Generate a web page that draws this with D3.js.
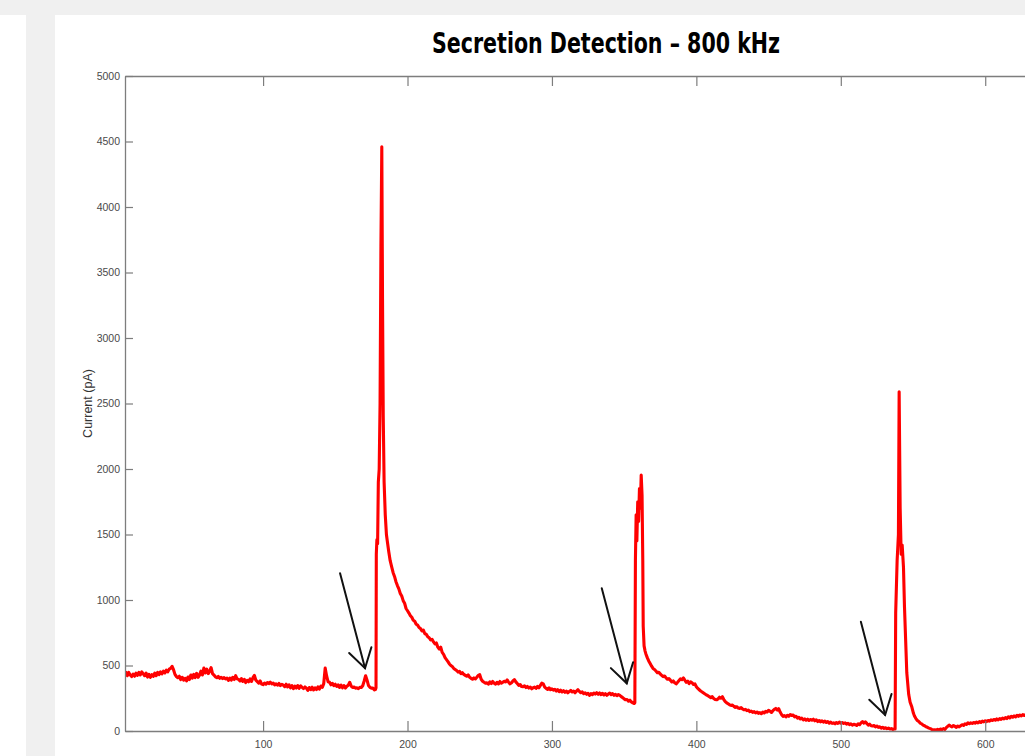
<!DOCTYPE html>
<html>
<head>
<meta charset="utf-8">
<script src="https://cdn.jsdelivr.net/npm/d3@7/dist/d3.min.js"></script>
<style>
  html, body { margin: 0; padding: 0; background: #f0f0f0; overflow: hidden; }
  svg { display: block; }
</style>
</head>
<body>
<svg id="chart" width="1025" height="756"></svg>
<script>
// Amperometric trace: [time, current in pA], split by event
const baselineBefore = [
  [4.4,440],[5,448],[6,422],[7,447],[8,428],[9,416],[10,434],[11,418],[12,442],[13,425],[14,447],[15,428],[16,452],[17,436],[18,422],[19,442],
  [20,412],[21,432],[22,410],[23,430],[24,418],[25,442],[26,422],[27,447],[28,430],[29,452],[30,436],[31,457],[32,443],[33,464],[34,452],
  [35,472],[36,478],[37,494],[38,468],[39,432],[40,416],[41,407],[42,418],[43,393],[44,410],[45,388],[46,402],[47,383],[48,412],[49,393],
  [50,427],[51,403],[52,432],[53,408],[54,440],[55,410],[56,427],[57,457],[58,428],[59,480],[60,443],[61,472],[62,438],[63,457],[64,484],
  [65,438],[66,427],[67,413],[68,407],[69,416],[70,402],[71,410],[72,400],[73,408],[74,397],[75,403],[76,386],[77,404],[78,388],[79,410],
  [80,393],[81,422],[82,398],[83,394],[84,383],[85,400],[86,378],[87,394],[88,370],[89,387],[90,376],[91,397],[92,378],[93,407],[94,424],
  [95,388],[96,377],[97,366],[98,382],[99,358],[100,354],[101,366],[102,357],[103,370],[104,362],[105,373],[106,360],[107,366],[108,352],
  [109,360],[110,350],[111,363],[112,347],[113,356],[114,350],[115,338],[116,357],[117,336],[118,352],[119,330],[120,347],[121,323],
  [122,342],[123,328],[124,347],[125,326],[126,344],[127,333],[128,324],[129,336],[130,327],[131,310],[132,332],[133,316],[134,334],
  [135,313],[136,330],[137,316],[138,337],[139,320],[140,342],[141,333],[142,362],[143,480],[144,420],[145,376],[146,372],[147,353],
  [148,364],[149,346],[150,357],[151,340],[152,352],[153,333],[154,350],[155,330],[156,347],[157,328],[158,342],[159,350],[160,372],
  [161,343],[162,332],[163,336],[164,327],[165,330],[166,324],[167,333],[168,332],[169,346],[170,382],[171,422],[172,388],[173,347],
  [174,333],[175,327],[176,328],[177,314],[177.8,316],[178.2,330]
];
const spike1 = [
  [178.4,1350],[178.8,1460],[179.3,1430],[179.8,1900],[180.4,2000],[181.0,2500],[181.6,3700],[182.2,4460],[182.7,3300],[183.2,2400],
  [183.8,1900],[184.6,1650],[185.4,1500]
];
const decay1 = [
  [186,1450],[187,1370],[188,1300],[189,1255],[190,1210],[191,1180],[192,1140],[193,1110],[194,1085],[195,1050],[196,1030],[197,995],
  [198,975],[199,935],[200,918],[201,900],[202,880],[203,868],[204,845],[205,838],[206,815],[207,808],[208,790],[209,782],[210,765],
  [211,770],[212,742],[213,738],[214,720],[215,712],[216,695],[217,700],[218,680],[219,665],[220,672],[221,640],[222,625],[223,640],
  [224,600],[225,585],[226,560],[227,545],[228,530],[229,512],[230,500],[231,492],[232,478],[233,470],[234,462],[235,450],[236,455],
  [237,438],[238,445],[239,432],[240,425],[241,418],[242,428],[243,410],[244,402],[245,395],[246,405],[247,398],[248,410],[249,425],
  [250,430],[251,395],[252,380],[253,372],[254,365],[255,368],[256,358],[257,375],[258,362],[259,378],[260,365],[261,358],[262,372],
  [263,360],[264,378],[265,365],[266,372],[267,380],[268,375],[269,390],[270,372],[271,360],[272,368],[273,382],[274,392],[275,375],
  [276,362],[277,348],[278,355],[279,340],[280,338],[281,345],[282,332],[283,340],[284,328],[285,335],[286,322],[287,330],[288,335],
  [289,325],[290,340],[291,330],[292,348],[293,365],[294,360],[295,335],[296,325],[297,318],[298,330],[299,315],[300,322],[301,312],
  [302,318],[303,305],[304,315],[305,300],[306,312],[307,298],[308,308],[309,295],[310,305],[311,292],[312,302],[313,310],[314,298],
  [315,305],[316,292],[317,305],[318,315],[319,302],[320,292],[321,298],[322,285],[323,292],[324,280],[325,288],[326,272],[327,285],
  [328,278],[329,290],[330,282],[331,292],[332,280],[333,290],[334,278],[335,288],[336,275],[337,285],[338,272],[339,282],[340,290],
  [341,278],[342,285],[343,272],[344,280],[345,270],[346,278],[347,272],[348,262],[349,255],[350,245],[351,238],[352,240],[353,228],
  [354,235],[355,222],[356,215],[357,210],[357.4,215]
];
const spike2 = [
  [357.8,1300],[358.3,1650],[358.8,1450],[359.4,1750],[360.0,1600],[360.6,1850],[361.2,1700],[361.8,1954],[362.4,1800],[362.9,1300],
  [363.2,800],[363.8,650],[364.5,610]
];
const decay2 = [
  [365,590],[366,560],[367,535],[368,515],[369,495],[370,478],[371,470],[372,458],[373,445],[374,448],[375,435],[376,425],[377,415],
  [378,420],[379,405],[380,395],[381,400],[382,388],[383,375],[384,382],[385,368],[386,360],[387,372],[388,385],[389,398],[390,392],
  [391,405],[392,388],[393,372],[394,380],[395,362],[396,375],[397,368],[398,355],[399,360],[400,338],[401,325],[402,315],[403,305],
  [404,298],[405,290],[406,282],[407,275],[408,270],[409,262],[410,255],[411,262],[412,248],[413,240],[414,238],[415,245],[416,258],
  [417,250],[418,262],[419,240],[420,225],[421,215],[422,208],[423,200],[424,195],[425,198],[426,188],[427,180],[428,185],[429,175],
  [430,172],[431,178],[432,168],[433,162],[434,165],[435,155],[436,160],[437,148],[438,152],[439,142],[440,148],[441,138],[442,145],
  [443,135],[444,140],[445,132],[446,145],[447,138],[448,150],[449,145],[450,158],[451,150],[452,142],[453,155],[454,165],[455,172],
  [456,160],[457,170],[458,145],[459,125],[460,112],[461,118],[462,108],[463,120],[464,112],[465,125],[466,118],[467,122],[468,108],
  [469,112],[470,98],[471,105],[472,92],[473,98],[474,85],[475,92],[476,82],[477,90],[478,80],[479,88],[480,82],[481,90],[482,78],
  [483,85],[484,72],[485,80],[486,70],[487,78],[488,68],[489,75],[490,65],[491,72],[492,60],[493,68],[494,58],[495,62],[496,55],
  [497,65],[498,58],[499,68],[500,60],[501,65],[502,58],[503,62],[504,52],[505,58],[506,48],[507,55],[508,45],[509,52],[510,48],
  [511,42],[512,55],[513,48],[514,62],[515,72],[516,60],[517,70],[518,58],[519,45],[520,52],[521,40],[522,38],[523,42],[524,32],
  [525,38],[526,28],[527,32],[528,22],[529,28],[530,20],[531,25],[532,18],[533,22],[534,15],[535,18],[536,12],[537,15],[537.6,15]
];
const spike3 = [
  [538.0,900],[539.0,1300],[539.9,1500],[540.4,2590],[541.1,1700],[541.8,1350],[542.5,1420],[543.4,1250],[544.1,946],[545.7,443],
  [547,280],[548,220],[549.2,183],[550.3,135]
];
const tail = [
  [551,115],[552,95],[553,80],[554,72],[555,60],[556,55],[557,45],[558,40],[559,32],[560,28],[561,22],[562,18],[563,12],[564,8],
  [565,10],[566,5],[567,12],[568,8],[569,15],[570,10],[571,18],[572,12],[573,25],[574,35],[575,45],[576,38],[577,32],[578,42],
  [579,35],[580,28],[581,38],[582,32],[583,40],[584,48],[585,42],[586,55],[587,50],[588,62],[589,55],[590,62],[591,58],[592,65],
  [593,60],[594,68],[595,62],[596,72],[597,65],[598,75],[599,70],[600,78],[601,72],[602,80],[603,75],[604,85],[605,80],[606,88],
  [607,82],[608,92],[609,85],[610,95],[611,88],[612,98],[613,92],[614,102],[615,95],[616,108],[617,100],[618,112],[619,105],
  [620,115],[621,108],[622,120],[623,112],[624,122],[625,115],[626,125],[627,118],[628,125],[630,128]
];

// Annotation arrows pointing at pre-spike features: [fromTime, fromPA, toTime, toPA]
const arrows = [
  [153.3, 1204, 170.6, 479],
  [334.5, 1089, 351.8, 364],
  [513.9, 834, 530.7, 122]
];

const xTicks = [100, 200, 300, 400, 500, 600];
const yTicks = [0, 500, 1000, 1500, 2000, 2500, 3000, 3500, 4000, 4500, 5000];
const xDomain = [4.4, 640];
const yDomain = [0, 5000];
const titleText = "Secretion Detection \u2013 800 kHz";
const yLabelText = "Current (pA)";

const svg = d3.select("#chart");

// window background and white figure panels
svg.append("rect").attr("x", 0).attr("y", 0).attr("width", 1025).attr("height", 756).attr("fill", "#f0f0f0");
svg.append("rect").attr("x", 0).attr("y", 15).attr("width", 26).attr("height", 741).attr("fill", "#ffffff");
svg.append("rect").attr("x", 55).attr("y", 15).attr("width", 970).attr("height", 741).attr("fill", "#ffffff");

const plot = { left: 125, top: 76, bottom: 731, right: 1043 };

const x = d3.scaleLinear().domain(xDomain).range([plot.left, plot.right]);
const y = d3.scaleLinear().domain(yDomain).range([plot.bottom, plot.top]);

const axisColor = "#7d7d7d";
const labelColor = "#4a4a4a";

svg.append("defs").append("clipPath").attr("id", "plotClip")
  .append("rect").attr("x", plot.left).attr("y", plot.top)
  .attr("width", plot.right - plot.left).attr("height", plot.bottom - plot.top);

// trace
const trace = [].concat(baselineBefore, spike1, decay1, spike2, decay2, spike3, tail);
const line = d3.line().x(d => x(d[0])).y(d => y(d[1]));

svg.append("path")
  .datum(trace)
  .attr("clip-path", "url(#plotClip)")
  .attr("d", line)
  .attr("fill", "none")
  .attr("stroke", "#ff0000")
  .attr("stroke-width", 3.1)
  .attr("stroke-linejoin", "round")
  .attr("stroke-linecap", "round");

// axes
function styleAxis(g) {
  g.selectAll("path.domain").attr("stroke", axisColor).attr("stroke-width", 1.3);
  g.selectAll(".tick line").attr("stroke", axisColor).attr("stroke-width", 1.2);
  g.selectAll(".tick text")
    .attr("fill", labelColor)
    .style("font-family", "'Liberation Sans', Arial, sans-serif")
    .style("font-size", "10.5px");
}

svg.append("g")
  .attr("transform", `translate(0,${plot.bottom})`)
  .call(d3.axisBottom(x).tickValues(xTicks).tickSize(-10).tickSizeOuter(0).tickPadding(10))
  .call(styleAxis);

svg.append("g")
  .attr("transform", `translate(0,${plot.top})`)
  .call(d3.axisTop(x).tickValues(xTicks).tickSize(-10).tickSizeOuter(0).tickFormat(""))
  .call(styleAxis);

svg.append("g")
  .attr("transform", `translate(${plot.left},0)`)
  .call(d3.axisLeft(y).tickValues(yTicks).tickSize(-8).tickSizeOuter(0).tickPadding(5).tickFormat(d3.format("d")))
  .call(styleAxis);

// arrows
const arrowG = svg.append("g").attr("stroke", "#111").attr("stroke-width", 2).attr("fill", "none")
  .attr("stroke-linecap", "round");
arrows.forEach(a => {
  const x0 = x(a[0]), y0 = y(a[1]), x1 = x(a[2]), y1 = y(a[3]);
  const ang = Math.atan2(y0 - y1, x0 - x1);
  const barb = 22, spread = 0.55;
  arrowG.append("line").attr("x1", x0).attr("y1", y0).attr("x2", x1).attr("y2", y1);
  arrowG.append("path").attr("d",
    `M${x1 + barb * Math.cos(ang - spread)},${y1 + barb * Math.sin(ang - spread)}` +
    `L${x1},${y1}` +
    `L${x1 + barb * Math.cos(ang + spread)},${y1 + barb * Math.sin(ang + spread)}`);
});

// labels
svg.append("text")
  .attr("x", 88).attr("y", (plot.top + plot.bottom) / 2)
  .attr("transform", `rotate(-90, 88, ${(plot.top + plot.bottom) / 2})`)
  .attr("text-anchor", "middle")
  .attr("dominant-baseline", "central")
  .attr("fill", "#333")
  .style("font-family", "'Liberation Sans', Arial, sans-serif")
  .style("font-size", "12.5px")
  .text(yLabelText);

svg.append("text")
  .attr("x", 432).attr("y", 53)
  .attr("textLength", 348)
  .attr("lengthAdjust", "spacingAndGlyphs")
  .attr("fill", "#000")
  .style("font-family", "'Liberation Sans Narrow', 'DejaVu Sans Condensed', 'Open Sans', sans-serif")
  .style("font-weight", "bold")
  .style("font-size", "29px")
  .text(titleText);
</script>
</body>
</html>
